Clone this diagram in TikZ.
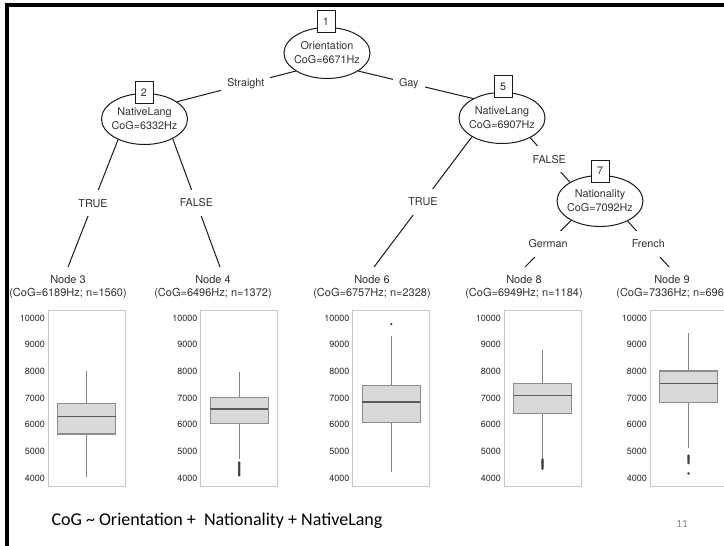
\documentclass[tikz,border=0pt]{standalone}
\usepackage{fontspec}
\setmainfont{TeX Gyre Heros}
\newfontfamily\slidefont{Carlito}
\usetikzlibrary{shapes.geometric}
\definecolor{cLine}{HTML}{1A1A1A}
\definecolor{cText}{HTML}{333333}
\definecolor{cFrame}{HTML}{C8C8C8}
\definecolor{cBox}{HTML}{D9D9D9}
\definecolor{cBoxEdge}{HTML}{8C8C8C}
\definecolor{cWhisk}{HTML}{828282}
\definecolor{cMed}{HTML}{595959}
\definecolor{cPage}{HTML}{8A8A8A}

% one terminal panel: name, frame left, lower whisker, q1, median, q3, upper whisker
\newcommand{\cogpanel}[7]{%
  \draw[frm] (#2,310) rectangle ({#2+77},486);
  \foreach \v in {4000,5000,...,10000}
    \node[tick] (#1-\v) at ({#2-3},{cy(\v)}) {\v};
  \draw[whisk] ({#2+38.5},{cy(#3)}) -- ({#2+38.5},{cy(#4)});
  \draw[whisk] ({#2+38.5},{cy(#6)}) -- ({#2+38.5},{cy(#7)});
  \draw[bx] ({#2+9.5},{cy(#4)}) rectangle ({#2+67.5},{cy(#6)});
  \draw[med] ({#2+9.5},{cy(#5)}) -- ({#2+67.5},{cy(#5)});
}

\begin{document}
\begin{tikzpicture}[
    x=1pt, y=-1pt,
    declare function={cy(\v)=478-(\v-4000)*0.02667;},
    font=\fontsize{10.8}{14}\selectfont, text=cText,
    split/.style={ellipse, draw=cLine, line width=1pt, fill=white,
                  minimum width=86pt, minimum height=51pt,
                  inner xsep=-3pt, inner ysep=0pt, align=center},
    nid/.style={draw=cLine, line width=0.9pt, fill=white, inner sep=0pt,
                minimum width=18pt, minimum height=22pt},
    edge/.style={draw=cLine, line width=1pt},
    elbl/.style={fill=white, inner xsep=6pt, inner ysep=0pt, minimum height=26pt},
    term/.style={align=center, font=\fontsize{11}{13}\selectfont},
    frm/.style={draw=cFrame, line width=0.8pt},
    tick/.style={anchor=east, inner sep=0pt, font=\fontsize{9}{10}\selectfont,
                 text=black!85},
    bx/.style={draw=cBoxEdge, line width=1.1pt, fill=cBox},
    whisk/.style={draw=cWhisk, line width=1pt},
    med/.style={draw=cMed, line width=1.4pt},
    outl/.style={fill=black!75},
    slideedge/.style={draw=black, line width=3.5pt},
    formula/.style={font=\slidefont\fontsize{18}{20}\selectfont, text=black},
    pgno/.style={font=\slidefont\fontsize{11}{12}\selectfont, text=cPage},
]
\useasboundingbox (0,0) rectangle (724,546);
\clip (0,0) rectangle (724,546);
\fill[white] (0,0) rectangle (724,546);

% ===================== Marco de la diapositiva =====================
\draw[slideedge] (5,5) -- (730,5);
\draw[slideedge] (7,3) -- (7,550);

% ===================== Nodos internos =====================
\node[split] (n1) at (327,53) {Orientation\\CoG=6671Hz};
\node[split] (n2) at (144.5,119) {NativeLang\\CoG=6332Hz};
\node[split] (n5) at (502,118) {NativeLang\\CoG=6907Hz};
\node[split] (n7) at (600,201) {Nationality\\CoG=7092Hz};

% ===================== Nodos terminales =====================
\coordinate (t3) at (68,267);
\coordinate (t4) at (220,267);
\coordinate (t6) at (374,267);
\coordinate (t8) at (525,267);
\coordinate (t9) at (669,267);
\node[term] (term3) at (68,287) {Node 3\\(CoG=6189Hz; n=1560)};
\node[term] (term4) at (213,287) {Node 4\\(CoG=6496Hz; n=1372)};
\node[term] (term6) at (372,287) {Node 6\\(CoG=6757Hz; n=2328)};
\node[term] (term8) at (524,287) {Node 8\\(CoG=6949Hz; n=1184)};
\node[term] (term9) at (672,287) {Node 9\\(CoG=7336Hz; n=696)};

% ===================== Ramas =====================
\draw[edge] (n1.210) -- node[elbl, pos=0.42] (lStraight) {Straight} (n2.28);
\draw[edge] (n1.330) -- node[elbl, pos=0.44] (lGay) {Gay} (n5.146);
\draw[edge] (n2.218) -- node[elbl] (lTrue2) {TRUE} (t3);
\draw[edge] (n2.325) -- node[elbl] (lFalse2) {FALSE} (t4);
\draw[edge] (n5.212) -- node[elbl] (lTrue5) {TRUE} (t6);
\draw[edge] (n5.325) -- node[elbl, pos=0.48] (lFalse5) {FALSE} (n7.148);
\draw[edge] (n7.214) -- node[elbl] (lGerman) {German} (t8);
\draw[edge] (n7.324) -- node[elbl] (lFrench) {French} (t9);

% ===================== Numeros de nodo =====================
\node[nid] (id1) at (326,21.5) {1};
\node[nid] (id2) at (144,92.5) {2};
\node[nid] (id5) at (503,86.5) {5};
\node[nid] (id7) at (600,171) {7};

% ===================== Diagramas de caja =====================
\cogpanel{p3}{48}{4040}{5650}{6300}{6800}{8020}
\cogpanel{p4}{200.7}{4700}{6040}{6590}{7010}{7990}
\cogpanel{p6}{352.7}{4210}{6090}{6850}{7460}{9320}
\cogpanel{p8}{504}{4700}{6425}{7090}{7550}{8800}
\cogpanel{p9}{650}{5110}{6830}{7540}{8010}{9420}

% valores atipicos
\foreach \v in {4100,4140,...,4580}
  \fill[outl] (239.2,{cy(\v)}) circle (1.3);
\fill[outl] (391.2,{cy(9770)}) circle (1.3);
\foreach \v in {4340,4380,...,4700}
  \fill[outl] (542.5,{cy(\v)}) circle (1.3);
\foreach \v in {4560,4600,...,4860}
  \fill[outl] (688.5,{cy(\v)}) circle (1.3);
\fill[outl] (688.5,{cy(4170)}) circle (1.3);

% ===================== Formula y numero de pagina =====================
\node[formula, anchor=west] (formula) at (48,521)
      {CoG \textasciitilde{} Orientation +\ \ Nationality + NativeLang};
\node[pgno] (pgno) at (682,524) {11};

\end{tikzpicture}
\end{document}
